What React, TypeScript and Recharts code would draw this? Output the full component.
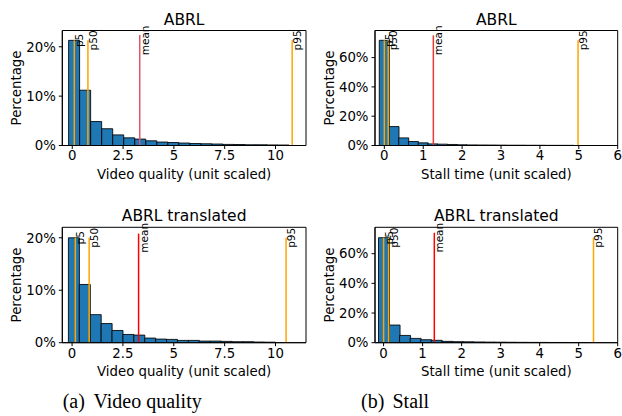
import { Bar, BarChart, ReferenceArea, ReferenceDot, ReferenceLine, XAxis, YAxis } from "recharts";

// histogram bin centres and heights (%)
const vqAbrlBins = [0.091, 0.634, 1.176, 1.719, 2.261, 2.804, 3.346, 3.889, 4.431, 4.974, 5.516, 6.059, 6.601, 7.144, 7.686, 8.229, 8.771, 9.314, 9.856, 10.399];
const vqAbrlPct = [21.3, 11.2, 4.85, 3.4, 2.15, 1.55, 1.3, 0.95, 0.7, 0.6, 0.5, 0.4, 0.35, 0.3, 0.22, 0.2, 0.15, 0.15, 0.12, 0.1];

const stAbrlBins = [-0.005, 0.245, 0.495, 0.745, 0.995, 1.245, 1.495, 1.745, 1.995, 2.245, 2.495, 2.745, 2.995, 3.245, 3.495, 3.745, 3.995, 4.245, 4.495, 4.745];
const stAbrlPct = [71.8, 12.9, 5.2, 2.7, 1.8, 1.1, 0.9, 0.7, 0.5, 0.4, 0.35, 0.3, 0.25, 0.2, 0.2, 0.15, 0.15, 0.1, 0.1, 0.1];

const vqTransBins = [0.088, 0.624, 1.16, 1.696, 2.232, 2.768, 3.304, 3.84, 4.376, 4.912, 5.448, 5.984, 6.52, 7.056, 7.592, 8.128, 8.664, 9.2, 9.736];
const vqTransPct = [20.0, 11.1, 5.35, 3.65, 2.33, 1.57, 1.45, 0.88, 0.69, 0.63, 0.44, 0.44, 0.31, 0.31, 0.25, 0.19, 0.19, 0.13, 0.1];

const stTransBins = [0.005, 0.275, 0.545, 0.815, 1.085, 1.355, 1.625, 1.895, 2.165, 2.435, 2.705, 2.975, 3.245, 3.515, 3.785, 4.055, 4.325, 4.595, 4.865, 5.135];
const stTransPct = [70.8, 11.9, 4.9, 2.9, 2.0, 1.6, 0.9, 0.7, 0.6, 0.5, 0.4, 0.35, 0.3, 0.25, 0.2, 0.2, 0.15, 0.15, 0.1, 0.1];

// marker lines: p5, p50, mean, p95
const markNames = ["p5", "p50", "mean", "p95"];
const vqAbrlMarkX = [0.1, 0.77, 3.32, 10.82];
const vqAbrlMarkTop = [21.3, 21.3, 22.4, 21.3];
const stAbrlMarkX = [0.0, 0.1, 1.26, 4.98];
const stAbrlMarkTop = [71.8, 71.8, 75.2, 71.8];
const vqTransMarkX = [0.16, 0.84, 3.27, 10.52];
const vqTransMarkTop = [20.0, 20.0, 20.8, 20.0];
const stTransMarkX = [0.0, 0.13, 1.3, 5.38];
const stTransMarkTop = [70.8, 70.8, 74.1, 70.8];

const vqTicks = [0, 2.5, 5, 7.5, 10];
const stTicks = [0, 1, 2, 3, 4, 5, 6];
const vqPctTicks = [0, 10, 20];
const stPctTicks = [0, 20, 40, 60];

const FONT = "DejaVu Sans, sans-serif";

type PanelProps = {
  left: number;
  top: number;
  height: number;
  plotLeft: number;
  plotRight: number;
  plotTop: number;
  plotBottom: number;
  title: string;
  xLabel: string;
  bins: number[];
  pct: number[];
  xDomain: [number, number];
  yMax: number;
  xTicks: number[];
  yTicks: number[];
  markX: number[];
  markTop: number[];
  meanColor: string;
};

function Panel(p: PanelProps) {
  const data = p.bins.map((x, i) => ({ x, pct: p.pct[i] }));
  const labelY = p.markTop[0];
  const tick = { fill: "#000", fontSize: 13.3, fontFamily: FONT };
  return (
    <div style={{ position: "absolute", left: p.left, top: p.top, width: 311, height: p.height }}>
      <div
        style={{
          position: "absolute",
          left: p.plotLeft,
          width: p.plotRight - p.plotLeft,
          top: p.plotTop - 20,
          lineHeight: "18px",
          textAlign: "center",
          fontFamily: FONT,
          fontSize: 15.5,
          color: "#000",
        }}
      >
        {p.title}
      </div>
      <BarChart
        width={311}
        height={p.height}
        data={data}
        barCategoryGap={0}
        barGap={0}
        margin={{ top: p.plotTop, right: 311 - p.plotRight, left: p.plotLeft - 50, bottom: p.height - p.plotBottom - 40 }}
      >
        <XAxis
          dataKey="x"
          type="number"
          domain={p.xDomain}
          ticks={p.xTicks}
          interval={0}
          allowDataOverflow
          height={40}
          tickSize={3.5}
          tickMargin={2}
          tick={tick}
          stroke="#000"
          label={(lp: any) => {
            const vb = lp.viewBox;
            return (
              <text x={vb.x + vb.width / 2} y={vb.y + 28.5} textAnchor="middle" dominantBaseline="central" fontSize={13.3} fontFamily={FONT} fill="#000">
                {p.xLabel}
              </text>
            );
          }}
        />
        <YAxis
          type="number"
          domain={[0, p.yMax]}
          ticks={p.yTicks}
          interval={0}
          allowDataOverflow
          width={50}
          tickSize={3.5}
          tickMargin={3}
          tick={tick}
          stroke="#000"
          tickFormatter={(v: number) => `${v}%`}
          label={(lp: any) => {
            const vb = lp.viewBox;
            const cx = vb.x + vb.width - 45.5;
            const cy = vb.y + vb.height / 2;
            return (
              <text x={cx} y={cy} transform={`rotate(-90 ${cx} ${cy})`} textAnchor="middle" dominantBaseline="central" fontSize={13.3} fontFamily={FONT} fill="#000">
                Percentage
              </text>
            );
          }}
        />
        <Bar dataKey="pct" fill="#1f77b4" stroke="#000" strokeOpacity={0.85} strokeWidth={1} isAnimationActive={false} />
        {p.markX.map((mx, i) => (
          <ReferenceLine
            key={"l" + i}
            segment={[{ x: mx, y: 0 }, { x: mx, y: p.markTop[i] }]}
            stroke={i === 2 ? p.meanColor : "#ffa500"}
            strokeWidth={1.5}
            ifOverflow="visible"
          />
        ))}
        {p.markX.map((mx, i) => (
          <ReferenceDot
            key={"t" + i}
            x={mx}
            y={labelY}
            r={0}
            fill="none"
            stroke="none"
            ifOverflow="visible"
            label={(lp: any) => {
              const vb = lp.viewBox;
              const tx = vb.x + 9;
              const ty = vb.y;
              return (
                <text x={tx} y={ty} transform={`rotate(-90 ${tx} ${ty})`} textAnchor="middle" fontSize={10.5} fontFamily={FONT} fill="#000">
                  {markNames[i]}
                </text>
              );
            }}
          />
        ))}
        <ReferenceArea
          x1={p.xDomain[0]}
          x2={p.xDomain[1]}
          y1={0}
          y2={p.yMax}
          fill="none"
          stroke="#000"
          strokeWidth={1}
          ifOverflow="visible"
        />
      </BarChart>
    </div>
  );
}

export default function App() {
  return (
    <div style={{ position: "absolute", left: 0, top: 0, width: 622, height: 416, background: "#fff", overflow: "hidden" }}>
      <Panel
        left={0} top={0} height={190}
        plotLeft={62.3} plotRight={306} plotTop={30.5} plotBottom={145.5}
        title="ABRL" xLabel="Video quality (unit scaled)"
        bins={vqAbrlBins} pct={vqAbrlPct} xDomain={[-0.49, 11.5]} yMax={23.3}
        xTicks={vqTicks} yTicks={vqPctTicks}
        markX={vqAbrlMarkX} markTop={vqAbrlMarkTop} meanColor="#e2566a"
      />
      <Panel
        left={311} top={0} height={190}
        plotLeft={64} plotRight={306.7} plotTop={30.5} plotBottom={145.5}
        title="ABRL" xLabel="Stall time (unit scaled)"
        bins={stAbrlBins} pct={stAbrlPct} xDomain={[-0.24, 6]} yMax={78.5}
        xTicks={stTicks} yTicks={stPctTicks}
        markX={stAbrlMarkX} markTop={stAbrlMarkTop} meanColor="#e53a3a"
      />
      <Panel
        left={0} top={190} height={200}
        plotLeft={62.3} plotRight={306} plotTop={37.3} plotBottom={152.7}
        title="ABRL translated" xLabel="Video quality (unit scaled)"
        bins={vqTransBins} pct={vqTransPct} xDomain={[-0.48, 11.5]} yMax={22.0}
        xTicks={vqTicks} yTicks={vqPctTicks}
        markX={vqTransMarkX} markTop={vqTransMarkTop} meanColor="#ff0000"
      />
      <Panel
        left={311} top={190} height={200}
        plotLeft={64} plotRight={306.7} plotTop={37.3} plotBottom={152.7}
        title="ABRL translated" xLabel="Stall time (unit scaled)"
        bins={stTransBins} pct={stTransPct} xDomain={[-0.22, 6]} yMax={77.8}
        xTicks={stTicks} yTicks={stPctTicks}
        markX={stTransMarkX} markTop={stTransMarkTop} meanColor="#ff0000"
      />
      <svg width={622} height={416} style={{ position: "absolute", left: 0, top: 0, pointerEvents: "none" }}>
        <g fontFamily="Liberation Serif, Times New Roman, serif" fontSize={20} fill="#000">
          <text x={62.7} y={407.5}>(a)</text>
          <text x={93.5} y={407.5}>Video quality</text>
          <text x={361} y={407.5}>(b)</text>
          <text x={392.5} y={407.5}>Stall</text>
        </g>
      </svg>
    </div>
  );
}
